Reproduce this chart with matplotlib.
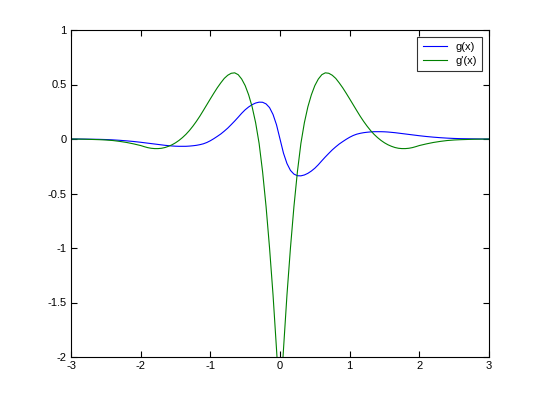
import matplotlib
matplotlib.use("Agg")
import matplotlib.pyplot as plt

# x positions for x >= 0 (shared by both series)
x_pos = [0.0, 0.05, 0.1, 0.15, 0.2, 0.25, 0.3, 0.35, 0.4, 0.45, 0.5, 0.55, 0.6, 0.65,
         0.7, 0.75, 0.8, 0.85, 0.9, 0.95, 1.0, 1.05, 1.1, 1.15, 1.2, 1.25, 1.3, 1.35,
         1.4, 1.45, 1.5, 1.55, 1.6, 1.65, 1.7, 1.75, 1.8, 1.85, 1.9, 1.95, 2.0,
         2.1, 2.2, 2.3, 2.4, 2.5, 2.6, 2.7, 2.8, 2.9, 3.0]
# g(x) values read for x >= 0 (odd function)
g_pos = [0.0, -0.13, -0.225, -0.288, -0.322, -0.337, -0.338, -0.33, -0.315, -0.294,
         -0.268, -0.236, -0.2, -0.165, -0.132, -0.1, -0.072, -0.046, -0.024, -0.003,
         0.016, 0.032, 0.044, 0.052, 0.058, 0.062, 0.065, 0.067, 0.067, 0.067, 0.066,
         0.064, 0.061, 0.058, 0.054, 0.05, 0.046, 0.042, 0.038, 0.034, 0.03,
         0.023, 0.017, 0.012, 0.008, 0.005, 0.003, 0.002, 0.001, 0.0, 0.0]
# g'(x) values read for x >= 0 (even function)
gp_pos = [-2.45, -1.93, -1.43, -1.0, -0.62, -0.3, -0.04, 0.15, 0.295, 0.405, 0.49, 0.55,
          0.59, 0.607, 0.603, 0.585, 0.556, 0.515, 0.47, 0.42, 0.368, 0.315, 0.262, 0.21,
          0.162, 0.118, 0.078, 0.043, 0.013, -0.013, -0.035, -0.053, -0.067, -0.078,
          -0.085, -0.088, -0.088, -0.085, -0.079, -0.07, -0.06,
          -0.045, -0.032, -0.022, -0.014, -0.009, -0.006, -0.004, -0.002, -0.001, 0.0]

x_vals = [-v for v in x_pos[:0:-1]] + x_pos
g_vals = [-v for v in g_pos[:0:-1]] + g_pos
gp_vals = gp_pos[:0:-1] + gp_pos

x_ticks = [-3, -2, -1, 0, 1, 2, 3]
y_ticks = [-2, -1.5, -1, -0.5, 0, 0.5, 1]
y_tick_labels = ["-2", "-1.5", "-1", "-0.5", "0", "0.5", "1"]
series_labels = ["g(x)", "g'(x)"]

plt.rcParams['font.family'] = ['Liberation Sans', 'DejaVu Sans']

fig = plt.figure(figsize=(5.4, 4.03), dpi=100, facecolor='white')
ax = fig.add_axes([71/540, 1 - 357/403, (489-71)/540, (357-30)/403])
ax.plot(x_vals, g_vals, color=(0, 0, 1), lw=0.8, label=series_labels[0])
ax.plot(x_vals, gp_vals, color=(0, 0.5, 0), lw=0.8, label=series_labels[1])
ax.set_xlim(-3, 3)
ax.set_ylim(-2, 1)
ax.set_xticks(x_ticks)
ax.set_xticklabels([str(t) for t in x_ticks])
ax.set_yticks(y_ticks)
ax.set_yticklabels(y_tick_labels)
ax.tick_params(direction='in', top=True, right=True, labelsize=8, length=4, width=0.8, pad=3)
for s in ax.spines.values():
    s.set_linewidth(0.8)
leg = ax.legend(loc='upper right', fontsize=8, frameon=True, fancybox=False,
                edgecolor='black', handlelength=2.2, borderaxespad=0.6,
                labelspacing=0.3, handletextpad=0.7, borderpad=0.5)
leg.get_frame().set_linewidth(0.8)
fig.savefig("out.png", dpi=100, facecolor='white')
